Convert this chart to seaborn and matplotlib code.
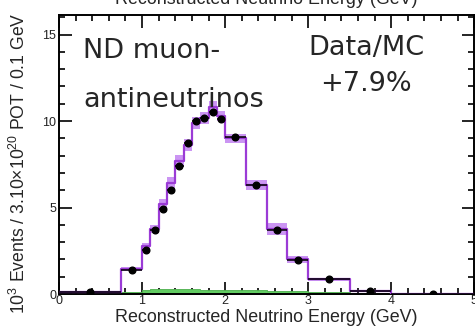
import numpy as np
import pandas as pd
import matplotlib
matplotlib.use("Agg")
import matplotlib.pyplot as plt
from matplotlib.ticker import MultipleLocator
import seaborn as sns

# Reconstructed energy binning (GeV)
bin_edges = [0.0, 0.75, 1.0, 1.1, 1.2, 1.3, 1.4, 1.5, 1.6, 1.7, 1.8, 1.9, 2.0,
             2.25, 2.5, 2.75, 3.0, 3.5, 4.0, 5.0]

# Simulated prediction (10^3 events / 0.1 GeV) and its systematic band half-width
mc_pred = [0.12, 1.45, 2.75, 3.75, 5.2, 6.4, 7.7, 8.6, 9.9, 10.2, 10.8, 10.3,
           9.0, 6.3, 3.75, 2.0, 0.85, 0.2, 0.02]
mc_syst = [0.03, 0.12, 0.2, 0.25, 0.3, 0.35, 0.35, 0.35, 0.35, 0.35, 0.35, 0.3,
           0.28, 0.3, 0.35, 0.2, 0.1, 0.03, 0.01]

# Background component
bkg_pred = [0.02, 0.1, 0.25, 0.28, 0.3, 0.3, 0.28, 0.28, 0.27, 0.25, 0.25, 0.24,
            0.24, 0.22, 0.2, 0.18, 0.14, 0.08, 0.02]

# Observed data
data_obs = [0.1, 1.37, 2.55, 3.7, 4.93, 6.0, 7.4, 8.75, 10.0, 10.2, 10.5, 10.1,
            9.05, 6.28, 3.7, 1.97, 0.87, 0.2, 0.0]

edges = np.array(bin_edges)
centers = 0.5 * (edges[:-1] + edges[1:])
widths = np.diff(edges)

df = pd.DataFrame({"energy": centers, "mc": mc_pred, "syst": mc_syst,
                   "bkg": bkg_pred, "data": data_obs, "width": widths})

sns.set_theme(style="ticks")
plt.rcParams["font.family"] = ["Liberation Sans", "DejaVu Sans"]
plt.rcParams["mathtext.fontset"] = "custom"
plt.rcParams["mathtext.rm"] = "Liberation Sans"
plt.rcParams["mathtext.it"] = "Liberation Sans:italic"

fig = plt.figure(figsize=(4.75, 3.27), dpi=100)
ax = fig.add_axes([0.1242, 0.1009, 0.8743, 0.8541])

purple = "#9b3bd6"
band = "#c68af2"
green = "#62cc62"

# Systematic band boxes
ax.bar(df["energy"] - df["width"] / 2, 2 * df["syst"], width=df["width"],
       bottom=df["mc"] - df["syst"], align="edge", color=band, alpha=0.9,
       linewidth=0, zorder=1)

# Background fill
sns.histplot(data=df, x="energy", weights="bkg", bins=list(bin_edges),
             element="step", fill=True, color=green, alpha=1.0,
             linewidth=0.6, edgecolor="#4caf4c", ax=ax, zorder=2)

# Prediction line
sns.histplot(data=df, x="energy", weights="mc", bins=list(bin_edges),
             element="step", fill=False, color=purple, linewidth=1.6,
             ax=ax, zorder=3)

# Data points with bin-width horizontal bars
ax.errorbar(df["energy"], df["data"], xerr=df["width"] / 2, fmt="o",
            color="black", markersize=4.8, elinewidth=1.1, capsize=0,
            zorder=5)

ax.set_xlim(0, 5)
ax.set_ylim(0, 16.15)
ax.xaxis.set_major_locator(MultipleLocator(1))
ax.xaxis.set_minor_locator(MultipleLocator(0.2))
ax.yaxis.set_major_locator(MultipleLocator(5))
ax.yaxis.set_minor_locator(MultipleLocator(1))
ax.tick_params(which="both", direction="in", top=True, right=True,
               colors="black", labelcolor="#222222", labelsize=9, width=1.2)
ax.tick_params(which="major", length=9)
ax.tick_params(which="minor", length=4.5)
ax.tick_params(axis="x", pad=1)
ax.tick_params(axis="y", pad=2)
for s in ax.spines.values():
    s.set_linewidth(1.4)
    s.set_color("black")

ax.set_xlabel("")
ax.set_ylabel("")

# Axis titles
fig.text(0.561, 0.016, "Reconstructed Neutrino Energy (GeV)", fontsize=12.9,
         ha="center", va="baseline")
fig.text(0.561, 0.988, "Reconstructed Neutrino Energy (GeV)", fontsize=12.9,
         ha="center", va="baseline")
fig.text(0.04, 0.5, r"10$^{3}$ Events / 3.10$\times$10$^{20}$ POT / 0.1 GeV",
         fontsize=12.7, rotation=90, ha="center", va="center")

label_font = ["DejaVu Sans"]
ax.text(0.29, 13.64, "ND muon-", fontsize=19.5, family=label_font,
        ha="left", va="baseline")
ax.text(0.29, 10.8, "antineutrinos", fontsize=19.5, family=label_font,
        ha="left", va="baseline")
ax.text(3.70, 13.8, "Data/MC", fontsize=19.5, family=label_font,
        ha="center", va="baseline")
ax.text(3.70, 11.75, "+7.9%", fontsize=19.5, family=label_font,
        ha="center", va="baseline")

fig.savefig("out.png", dpi=100)
